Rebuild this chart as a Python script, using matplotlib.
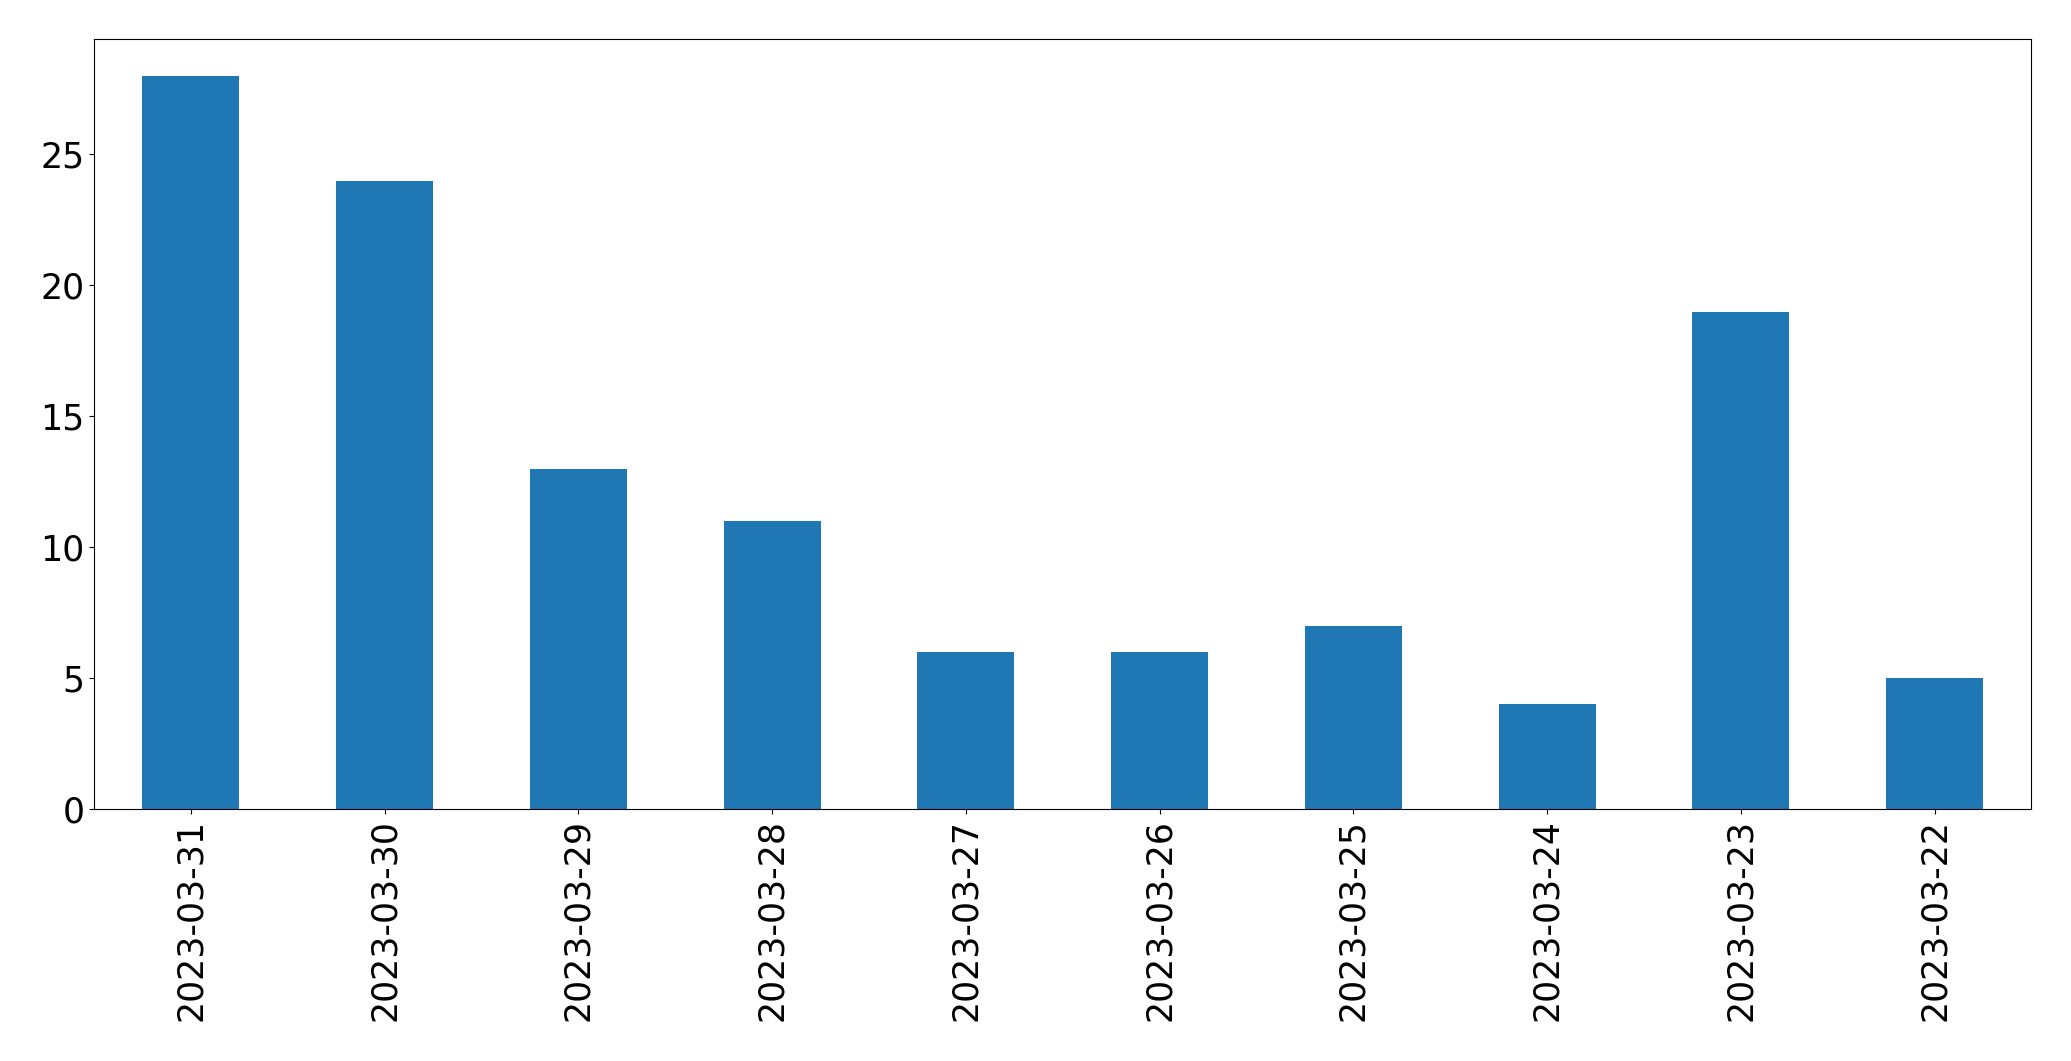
import matplotlib
matplotlib.use('Agg')
import matplotlib.pyplot as plt
import pandas as pd

# daily counts, newest first
dates = ['2023-03-31', '2023-03-30', '2023-03-29', '2023-03-28', '2023-03-27',
         '2023-03-26', '2023-03-25', '2023-03-24', '2023-03-23', '2023-03-22']
counts = [28, 24, 13, 11, 6, 6, 7, 4, 19, 5]

series = pd.Series(counts, index=dates)

fig = plt.figure(figsize=(20.71, 10.61), dpi=100)
ax = fig.add_axes([0.0454, 0.2375, 0.9355, 0.7255])
series.plot(kind='bar', ax=ax, color='#1f77b4')
ax.tick_params(axis='both', labelsize=25)

plt.savefig('out.png')
